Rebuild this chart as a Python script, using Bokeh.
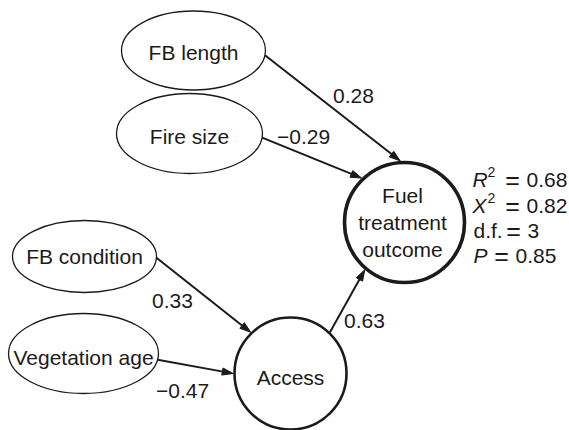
import numpy as np
from bokeh.plotting import figure
from bokeh.models import Range1d
from bokeh.core.properties import value
from bokeh.embed import file_html
from bokeh.resources import INLINE

# ---------------- data ----------------
node_names = ["FB length", "Fire size", "FB condition", "Vegetation age",
              "Access", "Fuel treatment outcome"]
edge_from = ["FB length", "Fire size", "FB condition", "Vegetation age", "Access"]
edge_to = ["Fuel treatment outcome", "Fuel treatment outcome", "Access",
           "Access", "Fuel treatment outcome"]
coefficients = [0.28, -0.29, 0.33, -0.47, 0.63]
stat_symbols = ["R", "X", "d.f.", "P"]
stat_superscripts = ["2", "2", "", ""]
stat_values = ["0.68", "0.82", "3", "0.85"]

# ---------------- layout (page pixels) ----------------
FONT = value("Liberation Sans")
INK = "#1c1a1b"
FS = "21px"
node_layout = {
    "FB length":      dict(x=193, y=50,  a=72, b=39.5, lw=1.3, label="FB length"),
    "Fire size":      dict(x=189, y=133, a=73, b=40,   lw=1.3, label="Fire size"),
    "FB condition":   dict(x=84,  y=256, a=72, b=36,   lw=1.3, label="FB condition"),
    "Vegetation age": dict(x=83,  y=353, a=75, b=40,   lw=1.3, label="Vegetation age"),
    "Access":         dict(x=290, y=373, a=56, b=56,   lw=2.6, label="Access"),
    "Fuel treatment outcome": dict(x=404, y=222, a=60, b=60, lw=3.6,
                                   label="Fuel\ntreatment\noutcome"),
}
label_dy = {"Access": 4, "Vegetation age": 4, "Fire size": 3, "FB length": 2}
# start parameter angle on source ellipse, end angle on target circle (deg, y down)
edge_geom = [
    dict(t0=7,   t1=-94,  lx=353, ly=95),
    dict(t0=6,   t1=-134, lx=303, ly=136),
    dict(t0=2,   t1=-134, lx=172, ly=300),
    dict(t0=9,   t1=180,  lx=182, ly=390),
    dict(t0=-46, t1=130,  lx=364, ly=320),
]
stat_baselines = [179, 205, 230, 255]
stat_sym_x = [472, 472, 473, 473]
stat_eq_x = [512, 512, 513, 501]
stat_val_x = [526, 526, 527, 515]

W, H = 569, 430
p = figure(width=W, height=H, x_range=Range1d(0, W), y_range=Range1d(H, 0),
           output_backend="svg", toolbar_location=None, min_border=0)
p.axis.visible = False
p.grid.visible = False
p.outline_line_color = None
p.background_fill_color = "white"

# nodes
for name in node_names:
    L = node_layout[name]
    p.ellipse(x=L["x"], y=L["y"], width=2 * L["a"], height=2 * L["b"],
              fill_color="white", line_color=INK, line_width=L["lw"])
    p.text(x=[L["x"] - (2 if name == "Fuel treatment outcome" else 0)],
           y=[L["y"] + label_dy.get(name, 0)], text=[L["label"]],
           text_align="center", text_baseline="middle", text_font=FONT,
           text_font_size=FS, text_color=INK, text_line_height=1.18)

# edges
head_len, head_half = 11, 3.6
xs0, ys0, xs1, ys1, heads_x, heads_y = [], [], [], [], [], []
for f, t, g in zip(edge_from, edge_to, edge_geom):
    S, T = node_layout[f], node_layout[t]
    a0 = np.radians(g["t0"])
    sx, sy = S["x"] + S["a"] * np.cos(a0), S["y"] + S["b"] * np.sin(a0)
    a1 = np.radians(g["t1"])
    r = T["a"] + T["lw"] / 2
    tx, ty = T["x"] + r * np.cos(a1), T["y"] + r * np.sin(a1)
    d = np.array([tx - sx, ty - sy]); d /= np.hypot(*d)
    n = np.array([-d[1], d[0]])
    bx, by = tx - head_len * d[0], ty - head_len * d[1]
    xs0.append(sx); ys0.append(sy); xs1.append(bx + 2 * d[0]); ys1.append(by + 2 * d[1])
    heads_x.append([tx, bx + head_half * n[0], bx - head_half * n[0]])
    heads_y.append([ty, by + head_half * n[1], by - head_half * n[1]])
p.segment(x0=xs0, y0=ys0, x1=xs1, y1=ys1, line_color=INK, line_width=2)
p.patches(xs=heads_x, ys=heads_y, fill_color=INK, line_color=INK, line_width=1)

# coefficient labels
coef_text = [("\u2212" if c < 0 else "") + f"{abs(c):.2f}" for c in coefficients]
p.text(x=[g["lx"] for g in edge_geom], y=[g["ly"] for g in edge_geom], text=coef_text,
       text_align="center", text_baseline="middle", text_font=FONT,
       text_font_size=FS, text_color=INK)

# fit statistics
for i, (sym, sup, val) in enumerate(zip(stat_symbols, stat_superscripts, stat_values)):
    yb = stat_baselines[i]
    p.text(x=[stat_sym_x[i]], y=[yb], text=[sym], text_align="left",
           text_baseline="alphabetic", text_font=FONT, text_font_size=FS,
           text_font_style="normal" if sym == "d.f." else "italic",
           text_color=INK)
    if sup:
        p.text(x=[stat_sym_x[i] + 15], y=[yb - 8], text=[sup], text_align="left",
               text_baseline="alphabetic", text_font=FONT, text_font_size="14px",
               text_color=INK)
    p.text(x=[stat_eq_x[i]], y=[yb], text=["="], text_align="center",
           text_baseline="alphabetic", text_font=FONT, text_font_size="25px",
           text_color=INK)
    p.text(x=[stat_val_x[i]], y=[yb], text=[val], text_align="left",
           text_baseline="alphabetic", text_font=FONT, text_font_size=FS,
           text_color=INK)

open("out.html", "w").write(file_html(p, INLINE))
